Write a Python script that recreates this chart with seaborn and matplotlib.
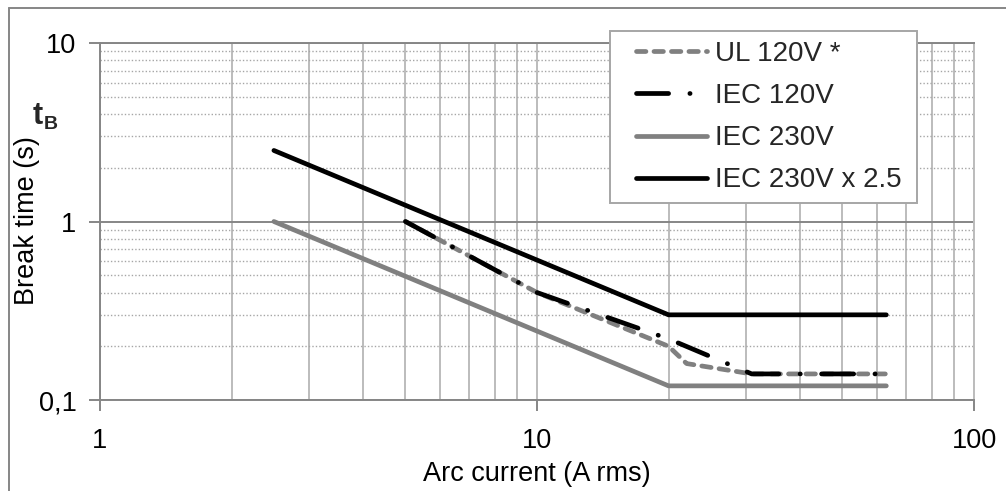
import numpy as np
import pandas as pd
import matplotlib
matplotlib.use("Agg")
import matplotlib.pyplot as plt
from matplotlib.lines import Line2D
from matplotlib.legend_handler import HandlerLine2D
from matplotlib.ticker import FixedLocator, FixedFormatter, NullFormatter, LogLocator
import seaborn as sns

# Break-time limits per standard (arc current in A rms, break time in s)
ul120_current = [5, 10, 20, 22, 31, 63]
ul120_time = [1.0, 0.4, 0.2, 0.16, 0.14, 0.14]

iec120_current = [5, 10, 20, 31, 63]
iec120_time = [1.0, 0.4, 0.22, 0.14, 0.14]

iec230_current = [2.5, 20, 63]
iec230_time = [1.0, 0.12, 0.12]

iec230x25_current = [2.5, 20, 63]
iec230x25_time = [2.5, 0.3, 0.3]

series_labels = ["UL 120V *", "IEC 120V", "IEC 230V", "IEC 230V x 2.5"]
x_ticks = [1, 10, 100]
x_ticklabels = ["1", "10", "100"]
y_ticks = [0.1, 1, 10]
y_ticklabels = ["0,1", "1", "10"]

sns.set_theme(style="white")
plt.rcParams["font.family"] = ["Liberation Sans", "DejaVu Sans"]

W, H, DPI = 1006, 491, 100
fig = plt.figure(figsize=(W / DPI, H / DPI), dpi=DPI)
ax = fig.add_axes([100 / W, 1 - 400 / H, (974 - 100) / W, (400 - 43) / H])

axis_gray = "#868686"
grid_gray = "#bcbcbc"
dark = "#000000"
mid = "#808080"
LW = 3.4
FS = 19.5
LEG_FS = 20

series = [
    (ul120_current, ul120_time, mid, (0, (2.0, 1.7))),
    (iec120_current, iec120_time, dark, (0, (6.8, 4.5, 0.05, 4.5))),
    (iec230_current, iec230_time, mid, "solid"),
    (iec230x25_current, iec230x25_time, dark, "solid"),
]

for (xs, ys, col, ls), lab in zip(series, series_labels):
    df = pd.DataFrame({"current": xs, "time": ys})
    sns.lineplot(data=df, x="current", y="time", ax=ax, color=col, lw=LW,
                 label=lab, sort=False, estimator=None)
    line = ax.lines[-1]
    line.set_linestyle(ls)
    line.set_dash_capstyle("round")
    line.set_solid_capstyle("round")
    line.set_solid_joinstyle("miter")

ax.set_xscale("log")
ax.set_yscale("log")
ax.set_xlim(1, 100)
ax.set_ylim(0.1, 10)

# grid: solid vertical lines, dotted horizontal minor lines
ax.xaxis.set_major_locator(FixedLocator(x_ticks))
ax.xaxis.set_major_formatter(FixedFormatter(x_ticklabels))
ax.xaxis.set_minor_locator(LogLocator(base=10, subs=np.arange(2, 10)))
ax.xaxis.set_minor_formatter(NullFormatter())
ax.yaxis.set_major_locator(FixedLocator(y_ticks))
ax.yaxis.set_major_formatter(FixedFormatter(y_ticklabels))
ax.yaxis.set_minor_locator(LogLocator(base=10, subs=np.arange(2, 10)))
ax.yaxis.set_minor_formatter(NullFormatter())

ax.grid(True, axis="x", which="both", color=grid_gray, lw=1.4, ls="-")
ax.grid(True, axis="y", which="major", color=axis_gray, lw=1.4, ls="-")
ax.grid(True, axis="y", which="minor", color="#a6a6a6", lw=1.0, ls=(0, (1, 1.5)))
ax.set_axisbelow(True)

for side in ["left", "bottom", "top"]:
    ax.spines[side].set_color(axis_gray)
    ax.spines[side].set_linewidth(1.4)
ax.spines["right"].set_color(grid_gray)
ax.spines["right"].set_linewidth(1.4)

ax.tick_params(axis="both", which="major", length=8, width=1.4, color=axis_gray,
               labelsize=FS, labelcolor="black", direction="out",
               bottom=True, left=True)
ax.tick_params(axis="x", which="major", pad=12)
ax.tick_params(axis="y", which="major", pad=9)
ax.tick_params(axis="both", which="minor", length=0)

ax.set_xlabel("Arc current (A rms)", fontsize=FS, color="black")
ax.xaxis.set_label_coords(0.5, -0.171)
ax.set_ylabel("")
fig.text(27 / W, 1 - 221 / H, "Break time (s)", rotation=90, ha="center",
         va="center", fontsize=FS, color="black")
fig.text(33 / W, 1 - 124 / H, "t", fontsize=22, fontweight="bold",
         ha="left", va="baseline")
fig.text(44 / W, 1 - 129 / H, "B", fontsize=14, fontweight="bold",
         ha="left", va="baseline")

leg_px = LEG_FS * DPI / 72
leg = ax.legend(loc="upper left",
                bbox_to_anchor=(610 / W, 1 - 201 / H, 307 / W, 170 / H),
                bbox_transform=fig.transFigure, borderaxespad=0, mode="expand",
                fontsize=LEG_FS, handlelength=(71 + 16) / leg_px,
                handletextpad=8 / leg_px, labelspacing=0.58,
                borderpad=10 / leg_px, frameon=True, fancybox=False, framealpha=1,
                handler_map={Line2D: HandlerLine2D(xpad=16 / leg_px)})
leg.get_frame().set_edgecolor("#a6a6a6")
leg.get_frame().set_linewidth(1.4)
for h in leg.get_lines():
    h.set_linewidth(LW)
    h.set_dash_capstyle("round")
    h.set_solid_capstyle("round")

# chart-area frame
fig.add_artist(Line2D([9 / W, 9 / W], [0, 1 - 8 / H], transform=fig.transFigure,
                      color=axis_gray, lw=1.4))
fig.add_artist(Line2D([9 / W, 1], [1 - 8 / H, 1 - 8 / H], transform=fig.transFigure,
                      color=axis_gray, lw=1.4))

fig.savefig("out.png", dpi=DPI)
